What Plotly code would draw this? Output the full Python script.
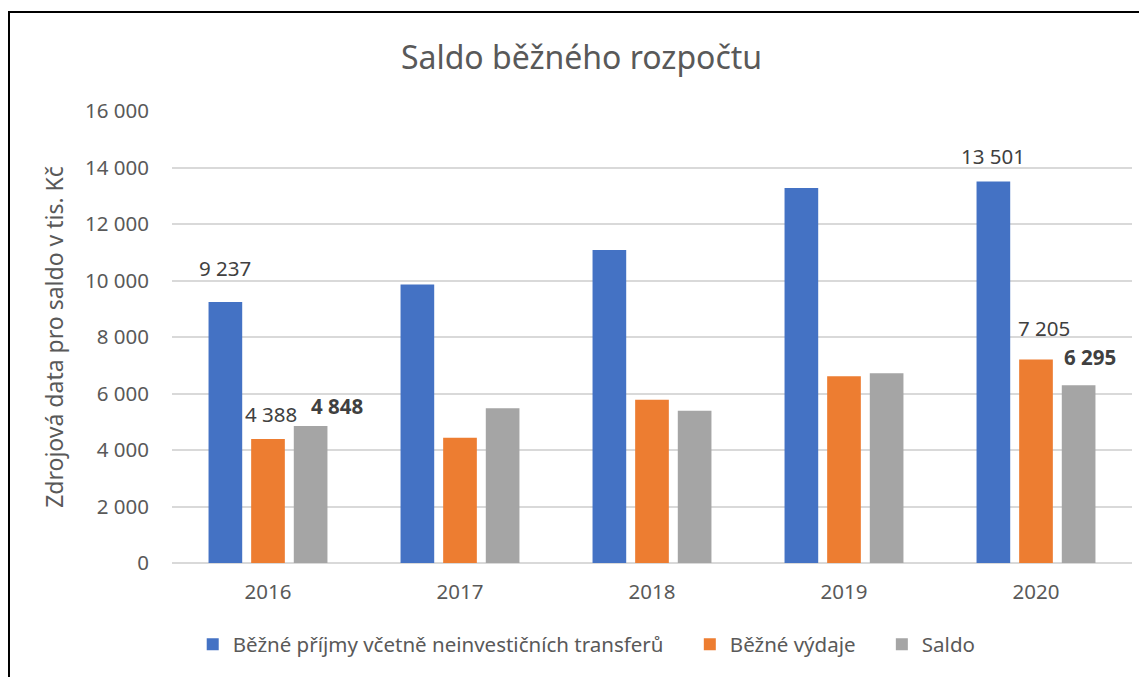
import plotly.graph_objects as go

years = ["2016", "2017", "2018", "2019", "2020"]
prijmy = [9237, 9860, 11080, 13275, 13501]
vydaje = [4388, 4435, 5775, 6610, 7205]
saldo = [4848, 5476, 5385, 6715, 6295]

series_names = ["Běžné příjmy včetně neinvestičních transferů", "Běžné výdaje", "Saldo"]
series_values = [prijmy, vydaje, saldo]
colors = ["#4472C4", "#ED7D31", "#A5A5A5"]

FONT = "Noto Sans"
NBSP = "\u00a0" * 4
fig = go.Figure()
for i, (name, vals, col) in enumerate(zip(series_names, series_values, colors)):
    label = name + (NBSP if i < len(series_names) - 1 else "")
    fig.add_trace(go.Bar(x=years, y=vals, name=label, marker=dict(color=col, line=dict(width=0))))

def fmt(v):
    return f"{v:,}".replace(",", " ")

# data labels only for first and last year: (series index, year index, xshift, yshift, bold)
label_style = [
    (0, 0, -42.6, 34, False), (1, 0, 2.5, 25, False), (2, 0, 69, 20, True),
    (0, 4, -42.6, 26, False), (1, 4, 8, 31, False), (2, 4, 54, 28, True),
]
for si, yi, xs, ys, bold in label_style:
    v = series_values[si][yi]
    txt = f"<b>{fmt(v)}</b>" if bold else fmt(v)
    fig.add_annotation(x=yi, y=v, text=txt, showarrow=False, xshift=xs, yshift=ys,
                       yanchor="middle", font=dict(family=FONT, size=20.5, color="#404040"))

# outer frame (left + top edges)
fig.add_shape(type="path", xref="paper", yref="paper",
              path="M -0.1698 -0.26 L -0.1698 1.219 L 1.05 1.219",
              line=dict(color="#000000", width=2))

fig.update_layout(
    width=1147, height=677,
    margin=dict(l=164, r=23, t=103, b=122),
    paper_bgcolor="white", plot_bgcolor="white",
    barmode="group", bargap=0.334, bargroupgap=0.21,
    title=dict(text="Saldo běžného rozpočtu", x=0.5, xanchor="center", xref="container",
               y=0.926, yanchor="middle",
               font=dict(family=FONT, size=32, color="#595959")),
    font=dict(family=FONT, color="#595959"),
    xaxis=dict(type="category", range=[-0.5, 4.5], autorange=False, showgrid=False, showline=False, ticks="",
               ticklabelstandoff=14,
               tickfont=dict(family=FONT, size=20.5, color="#595959")),
    yaxis=dict(range=[0, 16000], autorange=False, tickvals=list(range(0, 16001, 2000)),
               ticktext=[fmt(v) for v in range(0, 16001, 2000)],
               showgrid=True, gridcolor="#D9D9D9", gridwidth=1.5,
               zeroline=True, zerolinecolor="#D9D9D9", zerolinewidth=1.5,
               showline=False, ticks="", ticklabelstandoff=22,
               tickfont=dict(family=FONT, size=20.5, color="#595959"),
               title=dict(text="Zdrojová data pro saldo v tis. Kč", standoff=14,
                          font=dict(family=FONT, size=23, color="#595959"))),
    legend=dict(orientation="h", x=0.432, xanchor="center", y=-0.18, yanchor="middle",
                font=dict(family=FONT, size=20.5, color="#595959"), itemclick=False),
    showlegend=True,
)

fig.write_html("out.html")
